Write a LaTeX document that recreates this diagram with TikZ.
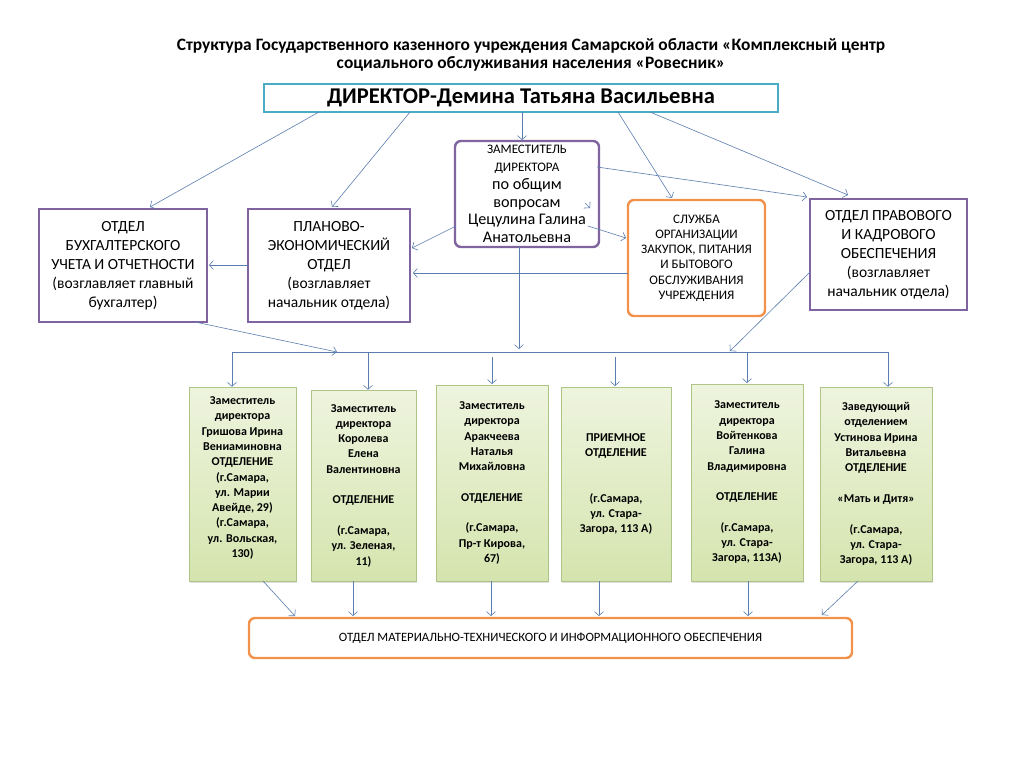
\documentclass[tikz,border=0pt]{standalone}
\usepackage{fontspec}
\setmainfont{Carlito}
\usetikzlibrary{arrows.meta,shadows}
\definecolor{conncol}{HTML}{5B7DB0}
\definecolor{purp}{HTML}{7F64A0}
\definecolor{tealb}{HTML}{4BACC6}
\definecolor{orng}{HTML}{F2924A}
\definecolor{gtop}{HTML}{EEF4DE}
\definecolor{gbot}{HTML}{D5E4AE}
\definecolor{gbrd}{HTML}{AFC487}
\begin{document}
\begin{tikzpicture}[x=1pt,y=-1pt,
  conn/.style={draw=conncol, line width=0.6pt, -{Straight Barb[length=4pt,width=9pt]}},
  line/.style={draw=conncol, line width=0.6pt},
  purpbox/.style={draw=purp, line width=2.4pt, fill=white, align=center, inner sep=0pt},
  orbox/.style={draw=orng, line width=2.4pt, fill=white, align=center, inner sep=0pt, rounded corners=6pt},
  greenbox/.style={draw=gbrd, line width=0.6pt, top color=gtop, bottom color=gbot, align=center, inner sep=0pt,
     drop shadow={shadow xshift=1.2pt, shadow yshift=-1.5pt, opacity=0.25},
     font=\bfseries\fontsize{12}{15.3}\selectfont},
  gtext/.style={align=center, inner sep=0pt, font=\bfseries\fontsize{12}{15.3}\selectfont},
  midtext/.style={font=\fontsize{15.5}{19}\selectfont},
  smalltext/.style={font=\fontsize{13}{15.2}\selectfont}
]
\fill[white] (0,0) rectangle (1017,768);
\useasboundingbox (0,0) rectangle (1017,768);

% title
\node[align=center, font=\bfseries\fontsize{17.4}{18}\selectfont] (title) at (531,55)
  {Структура Государственного казенного учреждения Самарской области «Комплексный центр\\
   социального обслуживания населения «Ровесник»};

% director
\node[draw=tealb, line width=2.6pt, fill=white, minimum width=514pt, minimum height=28pt, inner sep=0pt,
  font=\bfseries\fontsize{22.5}{26}\selectfont] (dir) at (521,98) {ДИРЕКТОР-Демина Татьяна Васильевна};

% deputy
\node[purpbox, rounded corners=6pt, minimum width=144pt, minimum height=106pt,
  font=\fontsize{16.2}{17.8}\selectfont] (dep) at (527,194)
  {{\fontsize{13}{12}\selectfont ЗАМЕСТИТЕЛЬ}\\{\fontsize{13}{12}\selectfont ДИРЕКТОРА}\\по общим\\вопросам\\Цецулина Галина\\Анатольевна};

% accounting
\node[purpbox, minimum width=168pt, minimum height=113pt, midtext] (acc) at (123,265.5)
  {ОТДЕЛ\\БУХГАЛТЕРСКОГО\\УЧЕТА И ОТЧЕТНОСТИ\\(возглавляет главный\\бухгалтер)};

% planning
\node[purpbox, minimum width=162pt, minimum height=113pt, midtext] (plan) at (329,265.5)
  {ПЛАНОВО-\\ЭКОНОМИЧЕСКИЙ\\ОТДЕЛ\\(возглавляет\\начальник отдела)};

% service
\node[orbox, minimum width=137pt, minimum height=116pt, smalltext] (serv) at (696.5,258)
  {СЛУЖБА\\ОРГАНИЗАЦИИ\\ЗАКУПОК, ПИТАНИЯ\\И БЫТОВОГО\\ОБСЛУЖИВАНИЯ\\УЧРЕЖДЕНИЯ};

% legal
\node[purpbox, minimum width=157pt, minimum height=111pt, midtext] (legal) at (888.5,254.5)
  {ОТДЕЛ ПРАВОВОГО\\И КАДРОВОГО\\ОБЕСПЕЧЕНИЯ\\(возглавляет\\начальник отдела)};

% green boxes
\node[greenbox, minimum width=107pt, minimum height=194pt] (g1) at (242.5,484) {};
\node[gtext] (g1t) at (242.5,478)
  {Заместитель\\директора\\Гришова Ирина\\Вениаминовна\\ОТДЕЛЕНИЕ\\(г.Самара,\\ул. Марии\\Авейде, 29)\\(г.Самара,\\ул. Вольская,\\130)};
\node[greenbox, minimum width=105pt, minimum height=191pt] (g2) at (363.5,485.5)
  {Заместитель\\директора\\Королева\\Елена\\Валентиновна\\\mbox{}\\ОТДЕЛЕНИЕ\\\mbox{}\\(г.Самара,\\ул. Зеленая,\\11)};
\node[greenbox, minimum width=112pt, minimum height=196pt] (g3) at (492,483)
  {Заместитель\\директора\\Аракчеева\\Наталья\\Михайловна\\\mbox{}\\ОТДЕЛЕНИЕ\\\mbox{}\\(г.Самара,\\Пр-т Кирова,\\67)};
\node[greenbox, minimum width=110pt, minimum height=194pt] (g4) at (616,484)
  {ПРИЕМНОЕ\\ОТДЕЛЕНИЕ\\\mbox{}\\\mbox{}\\(г.Самара,\\ул. Стара-\\Загора, 113 А)};
\node[greenbox, minimum width=112pt, minimum height=197pt] (g5) at (747,482.5)
  {Заместитель\\директора\\Войтенкова\\Галина\\Владимировна\\\mbox{}\\ОТДЕЛЕНИЕ\\\mbox{}\\(г.Самара,\\ул. Стара-\\Загора, 113А)};
\node[greenbox, minimum width=112pt, minimum height=194pt] (g6) at (876,484)
  {Заведующий\\отделением\\Устинова Ирина\\Витальевна\\ОТДЕЛЕНИЕ\\\mbox{}\\«Мать и Дитя»\\\mbox{}\\(г.Самара,\\ул. Стара-\\Загора, 113 А)};

% bottom
\node[orbox, minimum width=603pt, minimum height=40pt, font=\fontsize{12.7}{14}\selectfont] (mto) at (550.5,638)
  {ОТДЕЛ МАТЕРИАЛЬНО-ТЕХНИЧЕСКОГО И ИНФОРМАЦИОННОГО ОБЕСПЕЧЕНИЯ};

% coordinates
\coordinate (d1) at (319,112);  \coordinate (t1) at (150,207);
\coordinate (d2) at (410,112);  \coordinate (t2) at (332,207);
\coordinate (d3) at (522,112);  \coordinate (t3) at (522,140);
\coordinate (d4) at (618,112);  \coordinate (t4) at (672,198);
\coordinate (d5) at (650,112);  \coordinate (t5) at (848,195);
\coordinate (p1) at (597,167);  \coordinate (q1) at (807,197);
\coordinate (p2) at (588,226);  \coordinate (q2) at (626,238);
\coordinate (p3) at (456,226);  \coordinate (q3) at (412,248);
\coordinate (p4) at (628,273);  \coordinate (q4) at (413,273);
\coordinate (p5) at (248,265);  \coordinate (q5) at (209,265);
\coordinate (p6) at (519,247);  \coordinate (q6) at (519,349);
\coordinate (p7) at (195,322);  \coordinate (q7) at (337,352);
\coordinate (p8) at (810,272);  \coordinate (q8) at (730,351);
\coordinate (s1) at (585,203);  \coordinate (s2) at (590,208);
\coordinate (bl) at (232,352);  \coordinate (br) at (888,352);

\draw[conn] (d1) -- (t1);
\draw[conn] (d2) -- (t2);
\draw[conn] (d3) -- (t3);
\draw[conn] (d4) -- (t4);
\draw[conn] (d5) -- (t5);
\draw[conn] (p1) -- (q1);
\draw[conn] (p2) -- (q2);
\draw[conn] (p3) -- (q3);
\draw[conn] (p4) -- (q4);
\draw[conn] (p5) -- (q5);
\draw[conn] (p6) -- (q6);
\draw[conn] (p7) -- (q7);
\draw[conn] (p8) -- (q8);
\draw[conn] (s1) -- (s2);

% bus
\draw[line] (bl) -- (br);
\draw[conn] (bl) -- (bl |- g1.north);
\draw[conn] (br) -- (br |- g6.north);
\draw[conn] (368,352) -- (g2.north -| 368,0);
\draw[conn] (492,357) -- (492,384);
\draw[conn] (615,357) -- (615,386);
\draw[conn] (747,352) -- (747,383);

% bottom arrows
\draw[conn] (263,581) -- (295,616);
\draw[conn] (g2.south -| 353,0) -- (353,616);
\draw[conn] (g3.south -| 491,0) -- (491,616);
\draw[conn] (g4.south -| 599,0) -- (599,616);
\draw[conn] (g5.south -| 748,0) -- (748,616);
\draw[conn] (858,581) -- (822,615);
\end{tikzpicture}
\end{document}
